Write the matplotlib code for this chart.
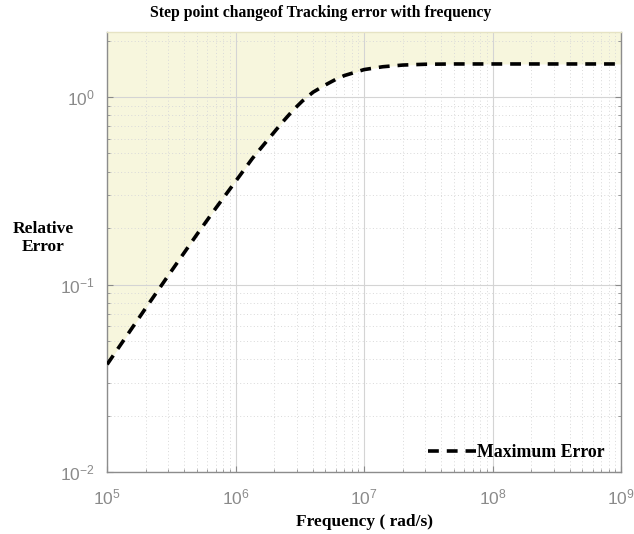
import numpy as np
import matplotlib
matplotlib.use("Agg")
import matplotlib.pyplot as plt

# values
freq = [1e5, 2e5, 3e5, 5e5, 7e5, 1e6, 1.35e6, 1.85e6, 2.3e6, 2.8e6, 3.3e6, 4e6,
        5e6, 6e6, 7e6, 1e7, 1.4e7, 2e7, 3e7, 5e7, 1e8, 1e9]
max_err = [0.0375, 0.075, 0.112, 0.185, 0.255, 0.355, 0.47, 0.61, 0.73, 0.85,
           0.95, 1.06, 1.16, 1.24, 1.30, 1.40, 1.45, 1.48, 1.495, 1.50, 1.50, 1.50]

TITLE = "Step point changeof Tracking error with frequency"
XLABEL = "Frequency ( rad/s)"
YLABEL = "Relative\nError"
LEGEND = "Maximum Error"

SERIF = ["Liberation Serif", "DejaVu Serif"]
SANS = ["Liberation Sans", "DejaVu Sans"]
FILL = "#f7f6dd"
TICK = "#8a8a8a"

fig = plt.figure(figsize=(6.34, 5.34), dpi=100)
ax = fig.add_axes([0.169, 0.116, 0.8105, 0.824])

ax.set_xscale("log")
ax.set_yscale("log")
ax.set_xlim(1e5, 1e9)
ax.set_ylim(1e-2, 2.22)

ax.fill_between(freq, max_err, 2.22, color=FILL, lw=0, zorder=0)
ax.plot(freq, max_err, color="black", lw=2.6, ls=(0, (3, 2.2)), label=LEGEND, zorder=3)

ax.grid(which="major", color="#d4d4d4", lw=0.8, ls="-")
ax.grid(which="minor", color="#d9d9d9", lw=0.7, ls=(0, (1, 2.5)))
ax.set_axisbelow(True)

ax.set_xticks([1e5, 1e6, 1e7, 1e8, 1e9])
ax.set_yticks([1e-2, 1e-1, 1e0])
ax.tick_params(which="both", direction="in", colors=TICK, top=False, right=True)
ax.tick_params(which="major", length=4, labelsize=12.5)
ax.tick_params(axis="x", which="major", pad=11)
ax.tick_params(axis="y", which="major", pad=9)
ax.tick_params(which="minor", length=2.5)
for lab in ax.get_xticklabels() + ax.get_yticklabels():
    lab.set_family(SANS)
for sp in ax.spines.values():
    sp.set_color("#8c8c8c")
    sp.set_linewidth(1.0)
ax.spines["top"].set_color("#e6e3c4")

fig.text(0.506, 0.975, TITLE, family=SERIF, fontweight="bold", fontsize=11.3,
         ha="center", va="center")
ax.set_xlabel(XLABEL, family=SERIF, fontweight="bold", fontsize=12.5, labelpad=5)
fig.text(0.068, 0.554, YLABEL, family=SERIF, fontweight="bold", fontsize=12.5,
         ha="center", va="center", linespacing=1.2)

leg = ax.legend(loc="lower right", frameon=False, handlelength=2.75, handletextpad=0.05,
                prop={"family": SERIF, "weight": "bold", "size": 12.8},
                bbox_to_anchor=(1.0, -0.012))

fig.savefig("out.png", dpi=100)
